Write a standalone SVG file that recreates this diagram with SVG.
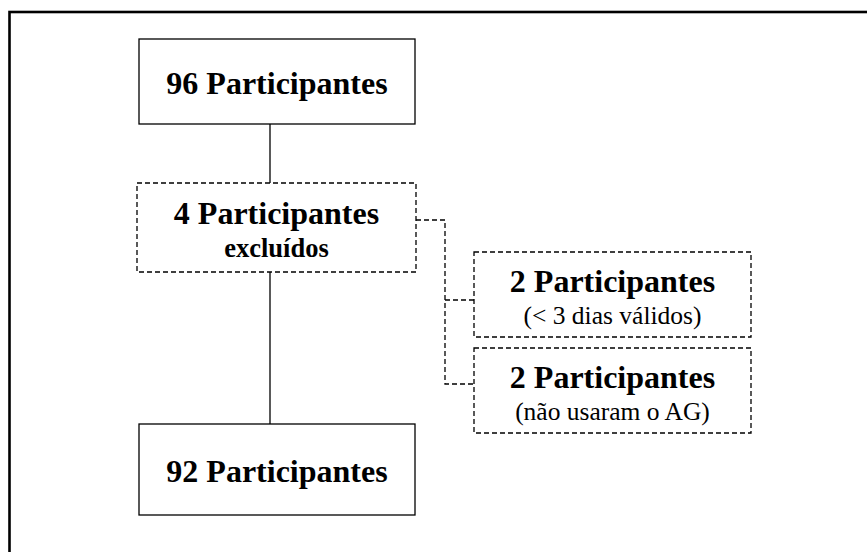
<svg xmlns="http://www.w3.org/2000/svg" width="867" height="552" viewBox="0 0 867 552">
<style>
.box{fill:#fff;stroke:#000;stroke-width:1.3}
.dash{fill:#fff;stroke:#000;stroke-width:1.3;stroke-dasharray:5 3}
.t{font-family:"Liberation Serif","Times New Roman",serif;text-anchor:middle;fill:#000}
.b{font-weight:bold;font-size:32px}
.s{font-weight:bold;font-size:26.5px}
.r{font-size:25.5px}
.con{fill:none;stroke:#000;stroke-width:1.3}
.cond{fill:none;stroke:#000;stroke-width:1.3;stroke-dasharray:5 3}
</style>
<rect x="0" y="0" width="867" height="552" fill="#fff"/>
<rect x="9.5" y="12" width="900" height="600" fill="none" stroke="#000" stroke-width="2.6"/>
<g id="connectors">
<line class="con" x1="270" y1="124" x2="270" y2="183"/>
<line class="con" x1="270" y1="272" x2="270" y2="424"/>
<polyline class="cond" points="416,220 445,220 445,384 474,384"/>
<line class="cond" x1="445" y1="300" x2="474" y2="300"/>
</g>
<g id="n96">
<rect class="box" x="139" y="39" width="276" height="85"/>
<text class="t b" x="277" y="94">96 Participantes</text>
</g>
<g id="n4">
<rect class="dash" x="137" y="183" width="279" height="89"/>
<text class="t b" x="276.5" y="224">4 Participantes</text>
<text class="t s" x="276.5" y="257">excluídos</text>
</g>
<g id="n2a">
<rect class="dash" x="474" y="252" width="277" height="85"/>
<text class="t b" x="612.5" y="292">2 Participantes</text>
<text class="t r" x="612.5" y="324">(&lt; 3 dias válidos)</text>
</g>
<g id="n2b">
<rect class="dash" x="474" y="348" width="277" height="85"/>
<text class="t b" x="612.5" y="388">2 Participantes</text>
<text class="t r" x="612.5" y="420">(não usaram o AG)</text>
</g>
<g id="n92">
<rect class="box" x="139" y="424" width="276" height="91"/>
<text class="t b" x="277" y="482">92 Participantes</text>
</g>
</svg>
